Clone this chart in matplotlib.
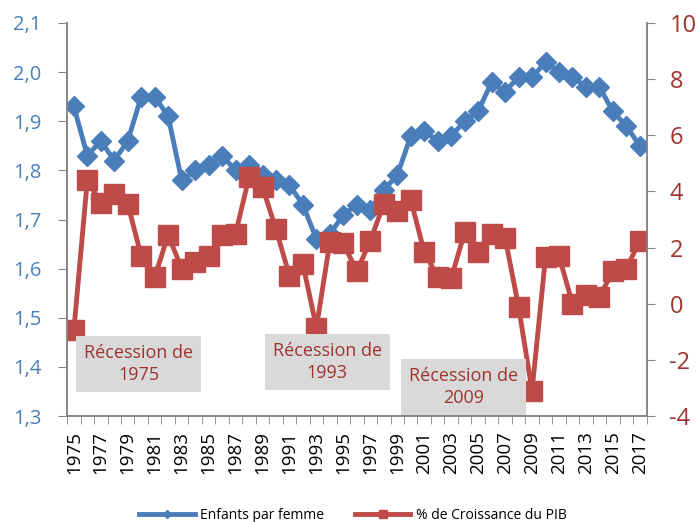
import numpy as np
import matplotlib.pyplot as plt

plt.rcParams['font.family'] = ['Open Sans', 'DejaVu Sans']
plt.rcParams['axes.unicode_minus'] = False

years = list(range(1975, 2018))
enfants = [1.93, 1.83, 1.86, 1.82, 1.86, 1.95, 1.95, 1.91, 1.78, 1.80,
           1.81, 1.83, 1.80, 1.81, 1.79, 1.78, 1.77, 1.73, 1.66, 1.67,
           1.71, 1.73, 1.72, 1.76, 1.79, 1.87, 1.88, 1.86, 1.87, 1.90,
           1.92, 1.98, 1.96, 1.99, 1.99, 2.02, 2.00, 1.99, 1.97, 1.97,
           1.92, 1.89, 1.85]
pib = [-0.95, 4.4, 3.6, 3.9, 3.55, 1.7, 0.95, 2.45, 1.25, 1.5,
       1.7, 2.45, 2.5, 4.5, 4.15, 2.65, 1.0, 1.4, -0.85, 2.2,
       2.15, 1.15, 2.25, 3.55, 3.3, 3.7, 1.85, 0.95, 0.9, 2.55,
       1.85, 2.5, 2.35, -0.1, -3.1, 1.65, 1.7, 0.0, 0.3, 0.25,
       1.15, 1.25, 2.25]
recessions = ["Récession de\n1975", "Récession de\n1993", "Récession de\n2009"]

blue = '#4a7ebb'
red = '#be4b48'
txt_red = '#a0332f'
grey = '#868686'

fig = plt.figure(figsize=(6.99, 5.22), dpi=100)
ax = fig.add_axes([0.096, 0.203, 0.829, 0.753])
ax2 = ax.twinx()

x = np.arange(len(years))
ax.plot(x, enfants, color=blue, lw=3.5, marker='D', ms=10, label='Enfants par femme')
ax2.plot(x, pib, color=red, lw=3.5, marker='s', ms=14, label='% de Croissance du PIB')

ax.set_ylim(1.3, 2.1)
ax.set_yticks(np.arange(1.3, 2.11, 0.1))
ax.set_yticklabels([f"{v:.1f}".replace('.', ',') for v in np.arange(1.3, 2.11, 0.1)])
ax2.set_ylim(-4, 10)
ax2.set_yticks(range(-4, 11, 2))
ax.set_xlim(-0.5, len(years) - 0.5)

ax.set_xticks(x[::2])
ax.set_xticklabels([str(y) for y in years[::2]], rotation=90, fontsize=13.5)
ax.set_xticks(np.arange(-0.5, len(years), 1), minor=True)
ax.tick_params(axis='x', which='major', length=0, pad=11)
ax.tick_params(axis='x', which='minor', length=6, color=grey)

ax.tick_params(axis='y', colors=blue, labelsize=14.5, length=6.5, pad=12)
ax.tick_params(axis='y', color=grey)
ax2.tick_params(axis='y', colors=txt_red, labelsize=17, length=5.5, pad=11)
ax2.tick_params(axis='y', color=grey)

for a in (ax, ax2):
    a.spines['top'].set_visible(False)
    for s in ('left', 'right', 'bottom'):
        a.spines[s].set_color(grey)
        a.spines[s].set_linewidth(1.2)

box_pos = [(4.8, -2.15), (18.8, -2.08), (28.9, -2.97)]
for label, (bx, by) in zip(recessions, box_pos):
    ax2.text(bx, by, label, ha='center', va='center', fontsize=13, color=txt_red,
             linespacing=1.3,
             bbox=dict(boxstyle='square,pad=0.45', fc='#d9d9d9', ec='none'))

h1, l1 = ax.get_legend_handles_labels()
h2, l2 = ax2.get_legend_handles_labels()
fig.legend(h1 + h2, l1 + l2, loc='center', bbox_to_anchor=(0.505, 0.013), ncol=2,
           frameon=False, fontsize=10, handlelength=4, handletextpad=0.4,
           columnspacing=2.2, markerscale=0.45)

fig.savefig('out.png', dpi=100)
